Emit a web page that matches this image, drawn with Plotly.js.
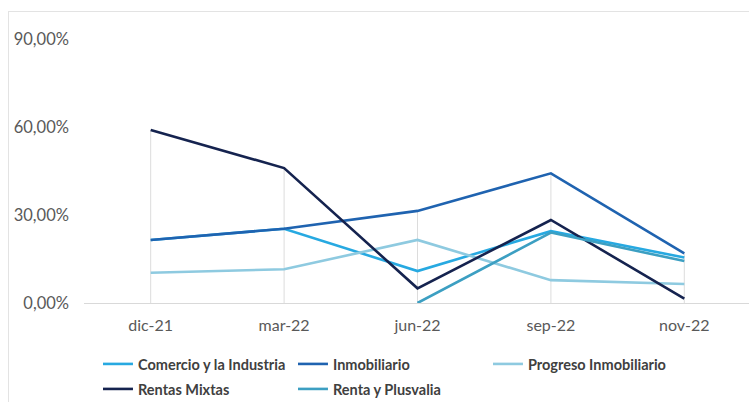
<!DOCTYPE html>
<html>
<head>
<meta charset="utf-8">
<script src="https://cdn.plot.ly/plotly-3.0.1.min.js"></script>
<style>
  html, body { margin: 0; padding: 0; background: #ffffff; }
  #wrap { position: relative; width: 749px; height: 402px; overflow: hidden; }
  #chart { position: absolute; left: 0; top: 0; width: 749px; height: 402px; }
  #frame { position: absolute; left: 8px; top: 11px; width: 800px; height: 450px;
           border: 1px solid #e3e3e3; pointer-events: none; }
</style>
</head>
<body>
<div id="wrap">
  <div id="chart"></div>
  <div id="frame"></div>
</div>
<script>
const categories = ["dic-21", "mar-22", "jun-22", "sep-22", "nov-22"];

const comercio      = [0.215, 0.253, 0.109, 0.245, 0.155];
const inmobiliario  = [0.215, 0.253, 0.314, 0.442, 0.169];
const progreso      = [0.103, 0.115, 0.215, 0.078, 0.065];
const rentasMixtas  = [0.590, 0.460, 0.050, 0.283, 0.015];
const rentaPlusvalia = [null, null, 0.000, 0.240, 0.143];

const seriesNames = ["Comercio y la Industria", "Inmobiliario", "Progreso Inmobiliario", "Rentas Mixtas", "Renta y Plusvalia"];
const seriesValues = [comercio, inmobiliario, progreso, rentasMixtas, rentaPlusvalia];
const seriesColors = ["#27a9e1", "#1f63b0", "#8ecae0", "#15234f", "#3c9fc2"];
const seriesLegend = ["legend", "legend", "legend", "legend2", "legend2"];

const yTicks = [0, 0.3, 0.6, 0.9];

// Drop lines: from axis to the highest value at each category
const dropX = [], dropY = [];
categories.forEach((c, i) => {
  const vals = seriesValues.map(s => s[i]).filter(v => v !== null);
  dropX.push(c, c, null);
  dropY.push(0, Math.max(...vals), null);
});

const traces = [{
  x: dropX, y: dropY, type: "scatter", mode: "lines",
  line: { color: "#dcdcdc", width: 1 }, showlegend: false, hoverinfo: "skip",
  cliponaxis: false
}];

seriesNames.forEach((n, i) => {
  traces.push({
    x: categories, y: seriesValues[i], name: n, type: "scatter", mode: "lines",
    legend: seriesLegend[i],
    line: { color: seriesColors[i], width: 2.6 }, cliponaxis: false
  });
});

const legendBase = {
  orientation: "h", xref: "container", yref: "container",
  x: 0.1308, xanchor: "left", yanchor: "middle",
  entrywidth: 150, entrywidthmode: "pixels",
  font: { size: 14.5, color: "#404040", family: "Lato, sans-serif", weight: "bold" },
  itemwidth: 30, tracegroupgap: 0,
  bgcolor: "rgba(0,0,0,0)"
};

const layout = {
  width: 749, height: 402,
  margin: { l: 84, r: 0, t: 39, b: 99 },
  paper_bgcolor: "rgba(0,0,0,0)", plot_bgcolor: "rgba(0,0,0,0)",
  separators: ",.",
  font: { family: "Lato, 'Open Sans', sans-serif", color: "#595959" },
  showlegend: true,
  xaxis: {
    type: "category", range: [-0.5, 4.485], automargin: false,
    showgrid: false, zeroline: false,
    showline: true, linecolor: "#d9d9d9", linewidth: 1,
    ticks: "", ticklabelstandoff: 8,
    tickfont: { size: 16, color: "#595959" }
  },
  yaxis: {
    range: [0, 0.9], tickvals: yTicks, tickformat: ".2%", automargin: false,
    showgrid: false, zeroline: false, showline: false,
    ticks: "", ticklabelstandoff: 14,
    tickfont: { size: 16.5, color: "#595959" }
  },
  legend: Object.assign({}, legendBase, { y: 1 - 364 / 402 }),
  legend2: Object.assign({}, legendBase, { y: 1 - 389 / 402 })
};

Plotly.newPlot("chart", traces, layout, { displayModeBar: false, staticPlot: true });
</script>
</body>
</html>
